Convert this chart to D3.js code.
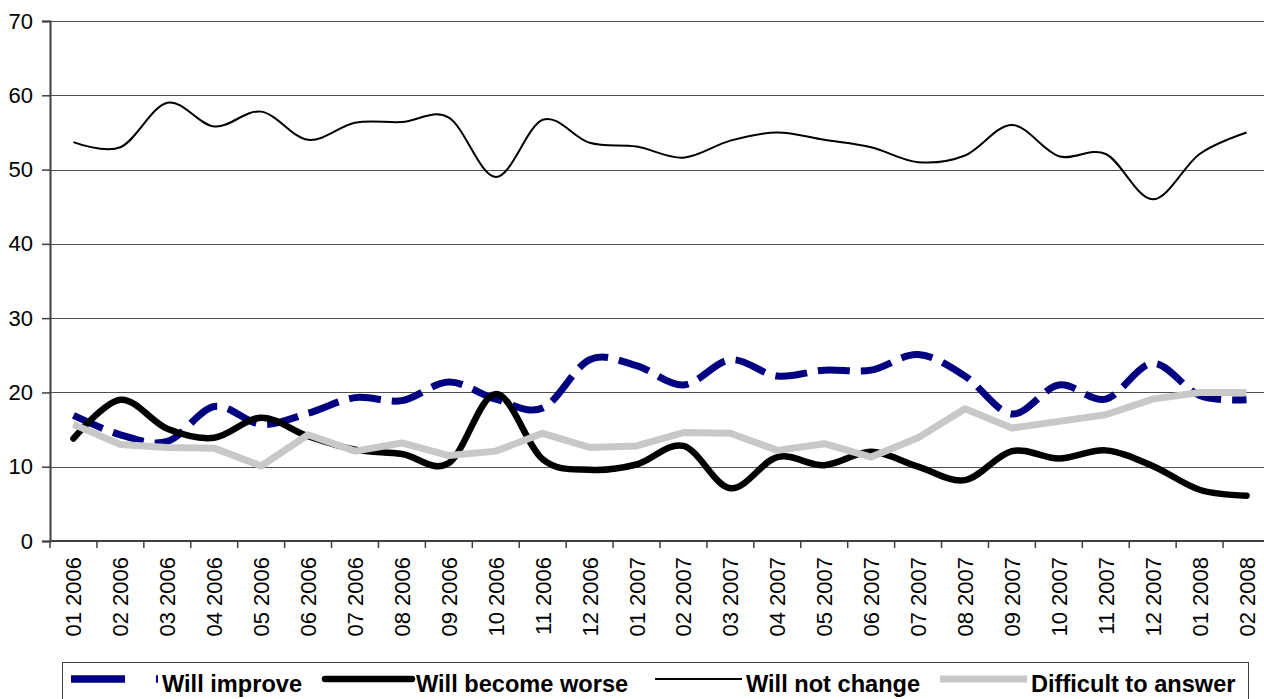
<!DOCTYPE html>
<html>
<head>
<meta charset="utf-8">
<script src="https://cdn.jsdelivr.net/npm/d3@7"></script>
<style>
  html, body { margin: 0; padding: 0; background: #fff; }
  svg { display: block; font-family: "Liberation Sans", Arial, sans-serif; }
</style>
</head>
<body>
<svg id="chart" width="1264" height="699"></svg>
<script>
const categories = ["01 2006","02 2006","03 2006","04 2006","05 2006","06 2006","07 2006","08 2006","09 2006","10 2006","11 2006","12 2006",
  "01 2007","02 2007","03 2007","04 2007","05 2007","06 2007","07 2007","08 2007","09 2007","10 2007","11 2007","12 2007","01 2008","02 2008"];
const yTicks = [0, 10, 20, 30, 40, 50, 60, 70];

const willImprove    = [16.9,14.3,13.4,18.1,15.7,17.2,19.3,18.9,21.4,19.1,17.9,24.4,23.6,21.0,24.4,22.2,23.0,23.0,25.1,22.2,17.1,21.0,19.1,23.9,19.6,19.0];
const willWorse      = [13.8,19.0,15.1,13.9,16.6,14.1,12.3,11.7,10.5,19.8,11.0,9.6,10.3,12.8,7.1,11.3,10.2,12.0,10.0,8.2,12.1,11.1,12.2,10.1,6.9,6.1];
const willNotChange  = [53.7,53.0,59.0,55.8,57.8,54.0,56.3,56.4,57.0,49.0,56.7,53.6,53.1,51.6,53.9,55.0,54.0,53.0,51.0,51.9,56.0,51.8,52.1,46.0,52.1,55.0];
const difficult      = [15.7,13.0,12.6,12.5,10.1,14.3,12.1,13.2,11.5,12.1,14.5,12.6,12.8,14.6,14.5,12.2,13.1,11.3,13.9,17.8,15.2,16.1,17.0,19.1,20.0,20.0];

const seriesNames = ["Will improve", "Will become worse", "Will not change", "Difficult to answer"];

const svg = d3.select("#chart");
const plotLeft = 50, plotRight = 1270, plotTop = 21, plotBottom = 541;

const x = d3.scaleBand().domain(categories).range([plotLeft, plotRight]).padding(0);
const y = d3.scaleLinear().domain([0, 70]).range([plotBottom, plotTop]);

// gridlines
svg.append("g").selectAll("line").data(yTicks.filter(d => d > 0)).join("line")
  .attr("x1", plotLeft).attr("x2", plotRight)
  .attr("y1", d => Math.round(y(d)) + 0.5).attr("y2", d => Math.round(y(d)) + 0.5)
  .attr("stroke", "#505050").attr("stroke-width", 1);

// y axis
const yAxis = d3.axisLeft(y).tickValues(yTicks).tickSize(8).tickPadding(9).tickFormat(d3.format("d"));
const gy = svg.append("g").attr("transform", `translate(${plotLeft},0)`).call(yAxis);
gy.select(".domain").attr("stroke", "#404040").attr("stroke-width", 2);
gy.selectAll(".tick line").attr("stroke", "#404040").attr("stroke-width", 1.5);
gy.selectAll(".tick text").attr("font-size", 22).attr("fill", "#000")
  .attr("font-family", "Liberation Sans, Arial, sans-serif");

// x axis
const gx = svg.append("g").attr("transform", `translate(0,${plotBottom})`);
gx.append("line").attr("x1", plotLeft).attr("x2", plotRight).attr("y1", 0).attr("y2", 0)
  .attr("stroke", "#404040").attr("stroke-width", 2);
gx.selectAll("line.tk").data(categories).join("line").attr("class", "tk")
  .attr("x1", d => x(d)).attr("x2", d => x(d)).attr("y1", 0).attr("y2", 7)
  .attr("stroke", "#404040").attr("stroke-width", 1.5);
gx.selectAll("text").data(categories).join("text")
  .attr("transform", d => `translate(${x(d) + x.bandwidth() / 2 + 8},16) rotate(-90)`)
  .attr("text-anchor", "end")
  .attr("font-size", 22).attr("fill", "#000")
  .text(d => d);

const cx = (d, i) => x(categories[i]) + x.bandwidth() / 2;
const smooth = d3.line().x(cx).y(d => y(d)).curve(d3.curveCardinal.tension(0));
const straight = d3.line().x(cx).y(d => y(d)).curve(d3.curveLinear);

// series
svg.append("path").attr("d", smooth(willImprove)).attr("fill", "none")
  .attr("stroke", "#000080").attr("stroke-width", 7).attr("stroke-dasharray", "32,11");
svg.append("path").attr("d", smooth(willWorse)).attr("fill", "none")
  .attr("stroke", "#000").attr("stroke-width", 6.5).attr("stroke-linecap", "round").attr("stroke-linejoin", "round");
svg.append("path").attr("d", smooth(willNotChange)).attr("fill", "none")
  .attr("stroke", "#000").attr("stroke-width", 2);
svg.append("path").attr("d", straight(difficult)).attr("fill", "none")
  .attr("stroke", "#c8c8c8").attr("stroke-width", 7).attr("stroke-linejoin", "round");

// legend
const lg = svg.append("g");
lg.append("rect").attr("x", 62.5).attr("y", 662.5).attr("width", 1186).attr("height", 60)
  .attr("fill", "#fff").attr("stroke", "#404040").attr("stroke-width", 1);

const legendStyles = [
  { stroke: "#000080", width: 7.5, dash: "54,31", cap: "butt", x: 71 },
  { stroke: "#000", width: 6.5, dash: null, cap: "round", x: 325 },
  { stroke: "#000", width: 2, dash: null, cap: "butt", x: 655 },
  { stroke: "#c8c8c8", width: 7, dash: null, cap: "butt", x: 940 }
];
seriesNames.forEach((name, i) => {
  const st = legendStyles[i];
  const lx = st.x;
  const ln = lg.append("line").attr("x1", lx).attr("x2", lx + 87).attr("y1", 679).attr("y2", 679)
    .attr("stroke", st.stroke).attr("stroke-width", st.width).attr("stroke-linecap", st.cap);
  if (st.dash) ln.attr("stroke-dasharray", st.dash);
  lg.append("text").attr("x", lx + 91).attr("y", 692)
    .attr("font-size", 23.6).attr("font-weight", "bold").attr("fill", "#000").text(name);
});
</script>
</body>
</html>
